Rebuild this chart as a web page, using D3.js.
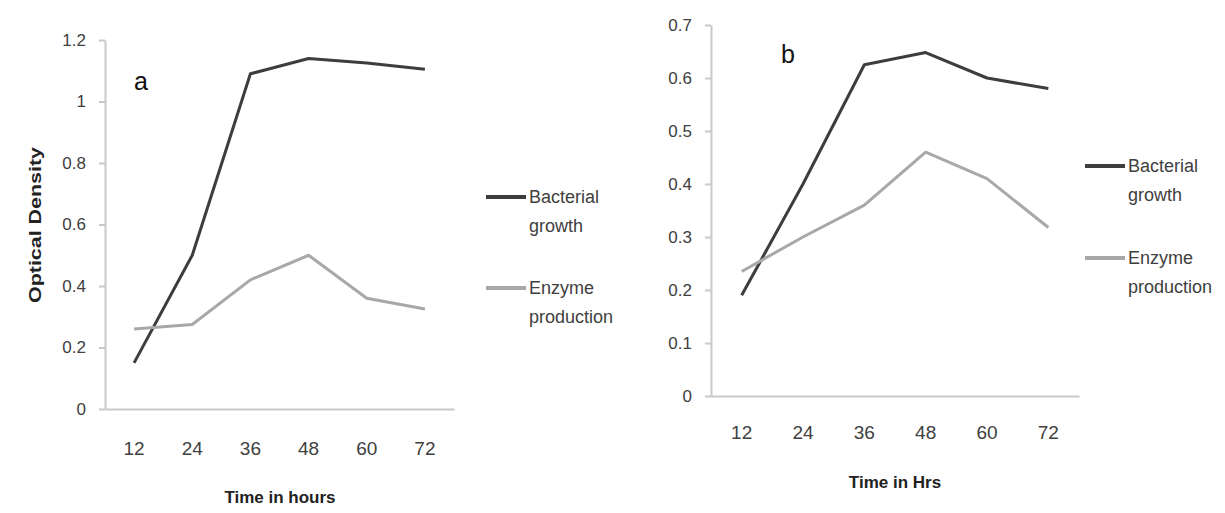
<!DOCTYPE html>
<html>
<head>
<meta charset="utf-8">
<script src="https://cdn.jsdelivr.net/npm/d3@7"></script>
<style>
  html, body { margin: 0; padding: 0; background: #fff; }
  svg { display: block; }
  text { font-family: "Liberation Sans", Arial, sans-serif; }
</style>
</head>
<body>
<svg id="chart" width="1225" height="513"></svg>
<script>
// ---- data ----
const hours = ["12", "24", "36", "48", "60", "72"];
const growthA = [0.15, 0.5, 1.09, 1.14, 1.125, 1.105];
const enzymeA = [0.26, 0.275, 0.42, 0.5, 0.36, 0.325];
const growthB = [0.19, 0.40, 0.625, 0.648, 0.60, 0.58];
const enzymeB = [0.235, 0.30, 0.36, 0.46, 0.41, 0.318];
const ticksA = [0, 0.2, 0.4, 0.6, 0.8, 1, 1.2];
const ticksB = [0, 0.1, 0.2, 0.3, 0.4, 0.5, 0.6, 0.7];
const seriesNames = ["Bacterial growth", "Enzyme production"];
const legendLines = [["Bacterial", "growth"], ["Enzyme", "production"]];

const svg = d3.select("#chart");
const colors = ["#3d3d3d", "#a8a8a8"];
const axisColor = "#c9c9c9";
const textColor = "#404040";

function panel(cfg) {
  const x = d3.scaleBand().domain(hours).range([cfg.left, cfg.right]);
  const y = d3.scaleLinear().domain([0, cfg.max]).range([cfg.bottom, cfg.top]);
  const g = svg.append("g");

  // y axis
  const ya = g.append("g")
    .attr("transform", `translate(${cfg.left},0)`)
    .call(d3.axisLeft(y).tickValues(cfg.ticks).tickSizeInner(6).tickSizeOuter(0)
      .tickPadding(13).tickFormat(d => String(d)));
  ya.select(".domain").attr("stroke", axisColor).attr("stroke-width", 2);
  ya.selectAll(".tick line").attr("stroke", axisColor).attr("stroke-width", 2);
  ya.selectAll(".tick text").attr("fill", textColor).style("font-size", "17px")
    .style("font-family", "'Liberation Sans', Arial, sans-serif");

  // x axis
  const xa = g.append("g")
    .attr("transform", `translate(0,${cfg.bottom})`)
    .call(d3.axisBottom(x).tickSizeInner(0).tickSizeOuter(0).tickPadding(cfg.xPad));
  xa.select(".domain").attr("stroke", axisColor).attr("stroke-width", 2);
  xa.selectAll(".tick text").attr("fill", textColor).style("font-size", "19px")
    .style("font-family", "'Liberation Sans', Arial, sans-serif");

  // lines
  const line = d3.line()
    .x((d, i) => x(hours[i]) + x.bandwidth() / 2)
    .y(d => y(d));
  [cfg.growth, cfg.enzyme].forEach((vals, k) => {
    g.append("path").datum(vals)
      .attr("fill", "none")
      .attr("stroke", colors[k])
      .attr("stroke-width", 3)
      .attr("stroke-linejoin", "round")
      .attr("d", line);
  });

  // panel letter
  g.append("text").attr("x", cfg.letterX).attr("y", cfg.letterY)
    .attr("fill", "#111").style("font-size", "25px").text(cfg.letter);

  // x title
  g.append("text").attr("x", cfg.xTitleX).attr("y", cfg.xTitleY)
    .attr("text-anchor", "middle").attr("fill", "#222")
    .style("font-size", "17px").style("font-weight", "bold").text(cfg.xTitle);

  // legend
  legendLines.forEach((lines, k) => {
    const ly = cfg.legendY[k];
    g.append("line").attr("x1", cfg.legendX).attr("x2", cfg.legendX + 40)
      .attr("y1", ly).attr("y2", ly).attr("stroke", colors[k]).attr("stroke-width", 4);
    const t = g.append("text").attr("x", cfg.legendX + 43).attr("y", ly + 6)
      .attr("fill", textColor).style("font-size", "18px");
    lines.forEach((s, j) => {
      t.append("tspan").attr("x", cfg.legendX + 43).attr("dy", j === 0 ? 0 : 29).text(s);
    });
  });
  return { x, y };
}

panel({
  left: 105, right: 454, top: 40, bottom: 409, max: 1.2, ticks: ticksA,
  growth: growthA, enzyme: enzymeA, xPad: 33,
  letter: "a", letterX: 134, letterY: 90,
  xTitle: "Time in hours", xTitleX: 280, xTitleY: 503,
  legendX: 486, legendY: [197, 288]
});

panel({
  left: 711, right: 1079, top: 25, bottom: 396, max: 0.7, ticks: ticksB,
  growth: growthB, enzyme: enzymeB, xPad: 30,
  letter: "b", letterX: 781, letterY: 63,
  xTitle: "Time in Hrs", xTitleX: 895, xTitleY: 488,
  legendX: 1085, legendY: [166, 258]
});

// y axis title (panel a)
svg.append("text")
  .attr("transform", "translate(41,225) rotate(-90)")
  .attr("text-anchor", "middle")
  .attr("fill", "#222")
  .style("font-size", "17px").style("font-weight", "bold")
  .attr("textLength", 156).attr("lengthAdjust", "spacingAndGlyphs")
  .text("Optical Density");
</script>
</body>
</html>
